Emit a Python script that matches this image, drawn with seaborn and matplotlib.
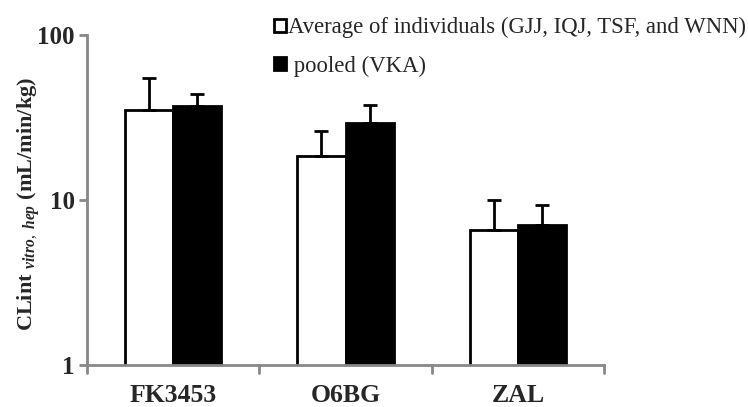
import matplotlib
matplotlib.use("Agg")
import matplotlib.pyplot as plt
import seaborn as sns
import pandas as pd
import numpy as np
from matplotlib.patches import Patch

compounds = ["FK3453", "O6BG", "ZAL"]
series = ["Average of individuals (GJJ, IQJ, TSF, and WNN)", "pooled (VKA)"]
avg_values = [35.1, 18.6, 6.6]
avg_err_top = [54.9, 26.2, 10.0]
pooled_values = [37.3, 29.2, 7.1]
pooled_err_top = [43.9, 37.6, 9.3]

df = pd.DataFrame({
    "compound": compounds * 2,
    "series": [series[0]] * 3 + [series[1]] * 3,
    "value": avg_values + pooled_values,
    "err_top": avg_err_top + pooled_err_top,
})

sns.set_style("white")
plt.rcParams['font.family'] = ['Liberation Serif', 'DejaVu Serif']
plt.rcParams['mathtext.fontset'] = 'custom'
plt.rcParams['mathtext.rm'] = 'Liberation Serif'
plt.rcParams['mathtext.it'] = 'Liberation Serif:italic:bold'
plt.rcParams['mathtext.bf'] = 'Liberation Serif:bold'

fig = plt.figure(figsize=(7.48, 4.07), dpi=100)
ax = fig.add_axes([87/748, 1 - 365/407, (604 - 87)/748, (365 - 35)/407])

sns.barplot(data=df, x="compound", y="value", hue="series", order=compounds,
            hue_order=series, palette=["white", "black"], edgecolor="black",
            linewidth=2, width=0.56, errorbar=None, legend=False, ax=ax, log_scale=(False, True))

# error bars (upper only)
for hi, s in enumerate(series):
    sub = df[df["series"] == s].set_index("compound").loc[compounds]
    cont = ax.containers[hi]
    xs = [p.get_x() + p.get_width() / 2 for p in cont.patches]
    vals = sub["value"].values
    up = sub["err_top"].values - vals
    ax.errorbar(xs, vals, yerr=[np.zeros_like(vals), up], fmt="none",
                ecolor="black", elinewidth=2, capsize=5, capthick=2, zorder=3)

ax.set_yscale("log")
ax.set_ylim(1, 100)
ax.set_xlim(-0.5, 2.5)
ax.set_yticks([1, 10, 100])
ax.set_yticklabels(["1", "10", "100"])
ax.yaxis.set_minor_locator(matplotlib.ticker.NullLocator())
ax.set_xticks([0, 1, 2])
ax.set_xticklabels(compounds)
ax.tick_params(axis="x", length=0, pad=14)
ax.tick_params(axis="y", length=6, color="#888888", width=2, direction="out", left=True, pad=3)
for lab in ax.get_xticklabels():
    lab.set_fontweight("bold")
    lab.set_fontsize(18.5)
for lab in ax.get_yticklabels():
    lab.set_fontweight("bold")
    lab.set_fontsize(18)
# category boundary ticks
for xb in [-0.5, 0.5, 1.5, 2.5]:
    ax.plot([xb, xb], [0, -0.025], transform=ax.get_xaxis_transform(), clip_on=False,
            color="#888888", lw=2)

for side in ["top", "right"]:
    ax.spines[side].set_visible(False)
for side in ["left", "bottom"]:
    ax.spines[side].set_color("#888888")
    ax.spines[side].set_linewidth(2)

ax.set_xlabel("")
ax.set_ylabel(r"CLint $_{\mathit{vitro,\ hep}}$ (mL/min/kg)", fontsize=16, fontweight="bold")
ax.yaxis.set_label_coords(-0.088, 0.487)

handles = [Patch(facecolor="white", edgecolor="black", linewidth=2),
           Patch(facecolor="black", edgecolor="black", linewidth=2)]
fig.legend(handles, [series[0], " " + series[1]], loc="upper left",
           bbox_to_anchor=(265/748, 1 - 8/407), frameon=False, fontsize=16.4,
           handlelength=0.5, handleheight=0.5, handletextpad=0.1,
           labelspacing=0.75, borderaxespad=0)

fig.savefig("out.png", dpi=100)
